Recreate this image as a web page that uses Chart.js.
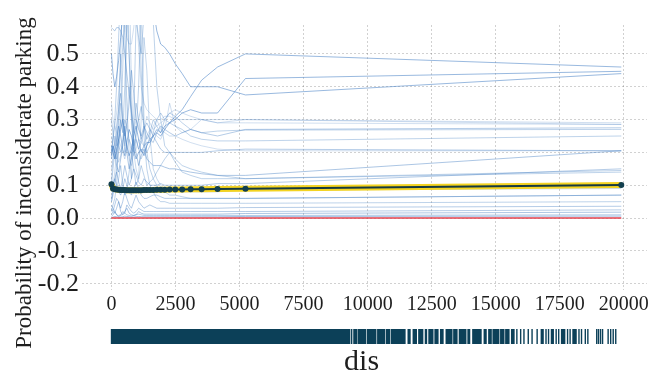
<!DOCTYPE html>
<html><head><meta charset="utf-8">
<script src="https://cdn.jsdelivr.net/npm/chart.js@4.4.1/dist/chart.umd.min.js"></script>
<style>
html,body{margin:0;padding:0;background:#fff;overflow:hidden;}
#wrap{position:relative;width:652px;height:380px;}
#main{position:absolute;left:0;top:0;}
#rug{position:absolute;left:0;top:318px;}
</style></head><body>
<div id="wrap">
<canvas id="main" width="652" height="380"></canvas>
<canvas id="rug" width="652" height="62"></canvas>
</div>
<script>
// ---- data ----
const xTickValues = [0,2500,5000,7500,10000,12500,15000,17500,20000];
const yTickValues = [-0.2,-0.1,0,0.1,0.2,0.3,0.4,0.5];
const disGrid = [0,60,130,200,280,360,440,520,600,690,780,870,960,1060,1160,1270,1380,1500,1630,1770,1920,2080,2270,2490,2760,3090,3520,4140,5230,19900];
const pdp = [0.103,0.090,0.088,0.087,0.086,0.0858,0.0855,0.0852,0.085,0.085,0.085,0.085,0.085,0.085,0.0851,0.0852,0.0854,0.0856,0.0858,0.086,0.0862,0.0865,0.0868,0.087,0.0872,0.0875,0.088,0.0885,0.089,0.1005];
const zeroLineX = [0,19900];

const ice01 = [0.50,0.44,0.40,0.43,0.48,0.55,0.62,0.70,0.66,0.63,0.69,0.72,0.68,0.65,0.70,0.74,0.70,0.67,0.64,0.57,0.53,0.52,0.50,0.47,0.44,0.40,0.40,0.40,0.375,0.44];
const ice02 = [0.19,0.22,0.20,0.24,0.28,0.25,0.21,0.19,0.23,0.27,0.25,0.21,0.18,0.20,0.21,0.19,0.22,0.24,0.25,0.26,0.25,0.27,0.29,0.31,0.33,0.37,0.42,0.46,0.50,0.46];
const ice03 = [0.22,0.20,0.18,0.21,0.24,0.27,0.30,0.26,0.22,0.19,0.21,0.25,0.28,0.24,0.20,0.22,0.23,0.23,0.25,0.27,0.26,0.28,0.29,0.30,0.32,0.33,0.32,0.32,0.425,0.447];
const ice04 = [0.58,0.575,0.57,0.58,0.58,0.57,0.55,0.50,0.44,0.38,0.32,0.27,0.24,0.21,0.23,0.27,0.29,0.27,0.25,0.23,0.21,0.20,0.20,0.20,0.20,0.20,0.20,0.205,0.21,0.205];
const ice05 = [0.12,0.18,0.25,0.22,0.30,0.35,0.28,0.22,0.30,0.40,0.33,0.26,0.30,0.28,0.24,0.27,0.31,0.29,0.27,0.28,0.29,0.30,0.32,0.33,0.32,0.31,0.30,0.29,0.30,0.285];
const ice06 = [0.30,0.26,0.22,0.28,0.33,0.38,0.30,0.25,0.28,0.35,0.45,0.38,0.30,0.27,0.25,0.28,0.26,0.24,0.23,0.26,0.28,0.27,0.26,0.25,0.26,0.27,0.26,0.25,0.27,0.275];
const ice07 = [0.10,0.15,0.20,0.18,0.24,0.30,0.26,0.40,0.62,0.50,0.30,0.22,0.26,0.30,0.34,0.28,0.24,0.26,0.30,0.28,0.26,0.30,0.32,0.31,0.29,0.27,0.26,0.265,0.268,0.27];
const ice08 = [0.20,0.24,0.28,0.26,0.22,0.20,0.24,0.30,0.28,0.24,0.20,0.26,0.35,0.30,0.25,0.22,0.20,0.22,0.26,0.30,0.32,0.30,0.29,0.28,0.27,0.25,0.24,0.235,0.235,0.25];
const ice09 = [0.15,0.18,0.22,0.20,0.17,0.19,0.23,0.26,0.22,0.18,0.16,0.20,0.24,0.21,0.18,0.20,0.22,0.25,0.28,0.30,0.27,0.26,0.25,0.25,0.24,0.23,0.22,0.21,0.205,0.205];
const ice10 = [0.18,0.22,0.20,0.16,0.14,0.18,0.22,0.28,0.20,0.15,0.18,0.24,0.20,0.16,0.19,0.21,0.18,0.17,0.16,0.16,0.16,0.155,0.15,0.15,0.145,0.14,0.135,0.13,0.13,0.205];
const ice11 = [0.08,0.10,0.12,0.14,0.11,0.09,0.12,0.16,0.13,0.10,0.12,0.15,0.13,0.11,0.10,0.12,0.11,0.10,0.10,0.10,0.105,0.10,0.10,0.10,0.10,0.10,0.10,0.105,0.105,0.15];
const ice12 = [0.05,0.07,0.10,0.08,0.12,0.16,0.10,0.07,0.09,0.14,0.20,0.15,0.10,0.12,0.16,0.13,0.10,0.11,0.12,0.14,0.16,0.18,0.20,0.17,0.14,0.13,0.12,0.12,0.12,0.14];
const ice13 = [0.25,0.22,0.18,0.20,0.24,0.22,0.20,0.18,0.21,0.24,0.22,0.19,0.21,0.24,0.23,0.22,0.25,0.27,0.26,0.25,0.24,0.27,0.35,0.28,0.26,0.27,0.30,0.29,0.29,0.285];
const ice14 = [0.05,0.08,0.10,0.15,0.20,0.30,0.45,0.70,0.80,0.50,0.30,0.20,0.25,0.40,0.65,0.30,0.20,0.15,0.12,0.10,0.08,0.08,0.07,0.07,0.065,0.06,0.06,0.06,0.06,0.07];
const ice15 = [0.12,0.10,0.14,0.20,0.35,0.50,0.30,0.20,0.65,0.75,0.40,0.20,0.15,0.12,0.30,0.55,0.45,0.25,0.15,0.12,0.10,0.09,0.09,0.085,0.08,0.08,0.08,0.08,0.085,0.09];
const ice16 = [0.20,0.25,0.30,0.40,0.55,0.70,0.65,0.60,0.62,0.70,0.75,0.68,0.60,0.55,0.50,0.62,0.70,0.75,0.60,0.40,0.30,0.22,0.20,0.18,0.16,0.15,0.14,0.13,0.12,0.145];
const ice17 = [0.02,0.04,0.06,0.10,0.25,0.50,0.70,0.55,0.35,0.20,0.12,0.30,0.60,0.70,0.45,0.25,0.15,0.10,0.08,0.06,0.05,0.05,0.045,0.045,0.045,0.045,0.045,0.045,0.045,0.05];
const ice18 = [0.03,0.02,0.04,0.06,0.05,0.03,0.05,0.08,0.06,0.04,0.03,0.05,0.07,0.05,0.04,0.03,0.035,0.04,0.035,0.03,0.03,0.03,0.03,0.03,0.03,0.03,0.03,0.03,0.032,0.036];
const ice19 = [0.01,0.02,0.015,0.03,0.05,0.02,0.01,0.015,0.04,0.03,0.02,0.015,0.02,0.03,0.025,0.02,0.02,0.02,0.02,0.02,0.02,0.02,0.02,0.02,0.02,0.02,0.02,0.02,0.02,0.025];
const ice20 = [0.005,0.01,0.02,0.01,0.005,0.008,0.012,0.02,0.03,0.015,0.01,0.008,0.01,0.02,0.015,0.012,0.012,0.012,0.012,0.012,0.012,0.012,0.012,0.012,0.012,0.012,0.012,0.012,0.014,0.018];
const ice21 = [0.04,0.03,0.02,0.01,0.008,0.01,0.02,0.015,0.01,0.008,0.006,0.008,0.01,0.012,0.01,0.008,0.008,0.008,0.008,0.008,0.008,0.008,0.008,0.008,0.008,0.008,0.008,0.008,0.008,0.01];
const ice22 = [0.002,0.003,0.005,0.004,0.003,0.003,0.004,0.006,0.005,0.004,0.003,0.003,0.004,0.005,0.004,0.004,0.004,0.004,0.004,0.004,0.004,0.004,0.004,0.004,0.004,0.004,0.004,0.004,0.005,0.006];
const ice23 = [0.06,0.09,0.12,0.10,0.08,0.07,0.09,0.12,0.10,0.08,0.07,0.09,0.11,0.09,0.07,0.06,0.06,0.065,0.07,0.07,0.065,0.06,0.06,0.06,0.06,0.06,0.06,0.06,0.06,0.07];
const ice24 = [0.35,0.30,0.28,0.32,0.38,0.45,0.52,0.60,0.55,0.53,0.53,0.58,0.66,0.52,0.40,0.35,0.33,0.32,0.31,0.30,0.30,0.31,0.31,0.30,0.30,0.30,0.30,0.30,0.30,0.29];

const rugSpans = [[0,9420],[9470,9500],[9560,9700],[9740,10050],[10100,10450],[10500,10800],[10850,11000],[11050,11600],[11700,11800],[11900,12050],[12120,12300],[12380,12450],[12520,12700],[12760,12900],[12980,13100],[13200,13450],[13500,13650],[13720,14000],[14060,14150],[14250,14600],[14700,14800],[14880,15000],[15050,15300],[15350,15500],[15550,15700],[15780,15900],[16950,17050],[17350,17450],[17750,17900],[18200,18350]];
const rugSingles = [16000,16150,16280,16450,16600,16800,17150,17250,17550,17650,18000,18100,18450,18550,18700,18800,19150,19220,19300,19380,19600,19700,19800,19900];

// ---- styles ----
const iceCurves = [ice01,ice02,ice03,ice04,ice05,ice06,ice07,ice08,ice09,ice10,ice11,ice12,ice13,ice14,ice15,ice16,ice17,ice18,ice19,ice20,ice21,ice22,ice23,ice24];
const iceAlpha = [0.55,0.55,0.55,0.4,0.25,0.4,0.35,0.35,0.25,0.45,0.4,0.35,0.25,0.35,0.3,0.35,0.35,0.4,0.4,0.45,0.4,0.5,0.4,0.25];
const SERIF = "'Liberation Serif', 'Times New Roman', serif";
const TXT = '#1e1e1e';
const RUG = '#0c4058';
const X_MIN = -1150, X_MAX = 20900;
const gridStyle = {color:'rgba(0,0,0,0.18)', lineWidth:1, drawTicks:false};

const pts = ys => disGrid.map((x,i)=>({x, y: ys[i]}));

const datasets = [];
datasets.push({label:'pdp', data: pts(pdp), borderColor:'#163a40', borderWidth:2,
  pointRadius:3, pointBackgroundColor:'#123f4f', pointBorderWidth:0, order:0, tension:0});
datasets.push({label:'pdp-band', data: pts(pdp), borderColor:'#f3d321', borderWidth:6,
  pointRadius:0, order:1, tension:0});
datasets.push({label:'zero', data: zeroLineX.map(x=>({x, y:0})), borderColor:'#e2404c', borderWidth:1.5,
  pointRadius:0, order:2});
iceCurves.forEach((c,i)=>{
  datasets.push({label:'ice'+(i+1), data: pts(c), borderColor:`rgba(70,128,196,${iceAlpha[i]})`,
    borderWidth:1, pointRadius:0, order:3, tension:0});
});

const yTitlePlugin = {
  id:'yTitle',
  afterDraw(chart, args, opts){
    const ctx = chart.ctx; ctx.save();
    ctx.translate(opts.x, opts.y); ctx.rotate(-Math.PI/2);
    ctx.font = opts.font; ctx.fillStyle = opts.color;
    ctx.textAlign = 'center'; ctx.textBaseline = 'middle';
    ctx.fillText(opts.text, 0, 0); ctx.restore();
  }
};

new Chart(document.getElementById('main'), {
  type:'line',
  data:{datasets},
  plugins:[yTitlePlugin],
  options:{
    responsive:false, animation:false, devicePixelRatio:1,
    layout:{padding:{top:25, right:4, left:0, bottom:60}},
    plugins:{legend:{display:false}, tooltip:{enabled:false},
      yTitle:{x:25, y:183, text:'Probability of inconsiderate parking', font:"23px 'Liberation Serif'", color:TXT}},
    scales:{
      x:{type:'linear', min:X_MIN, max:X_MAX,
        afterBuildTicks: s => { s.ticks = xTickValues.map(v=>({value:v})); },
        ticks:{font:{family:SERIF, size:20}, color:TXT, padding:3, maxRotation:0, autoSkip:false, callback:v=>String(v)},
        grid:gridStyle, border:{display:false, dash:[2,2]}},
      y:{type:'linear', min:-0.219, max:0.588,
        afterBuildTicks: s => { s.ticks = yTickValues.map(v=>({value:v})); },
        afterFit: s => { s.width = 82; },
        ticks:{font:{family:SERIF, size:26}, color:TXT, padding:3, callback:v=>v.toFixed(1)},
        grid:gridStyle, border:{display:false, dash:[2,2]}}
    }
  }
});

new Chart(document.getElementById('rug'), {
  type:'bar',
  data:{datasets:[
    {type:'bar', data: rugSpans.map(s=>({x:s, y:0})), backgroundColor:RUG, borderWidth:0, barThickness:19},
    {type:'scatter', data: rugSingles.map(v=>({x:v, y:0})), pointStyle:'line', rotation:90, pointRadius:9.5,
      borderColor:RUG, borderWidth:1.4, backgroundColor:RUG}
  ]},
  options:{
    indexAxis:'y', responsive:false, animation:false, devicePixelRatio:1,
    layout:{padding:{top:7, right:4, left:82, bottom:0}},
    plugins:{legend:{display:false}, tooltip:{enabled:false}},
    scales:{
      x:{type:'linear', min:X_MIN, max:X_MAX, ticks:{display:false}, grid:{display:false, drawTicks:false}, border:{display:false},
        title:{display:true, text:'dis', font:{family:SERIF, size:30}, color:TXT, padding:{top:0, bottom:0}}},
      y:{type:'linear', min:-1, max:1, display:false}
    }
  }
});
</script>
</body></html>
